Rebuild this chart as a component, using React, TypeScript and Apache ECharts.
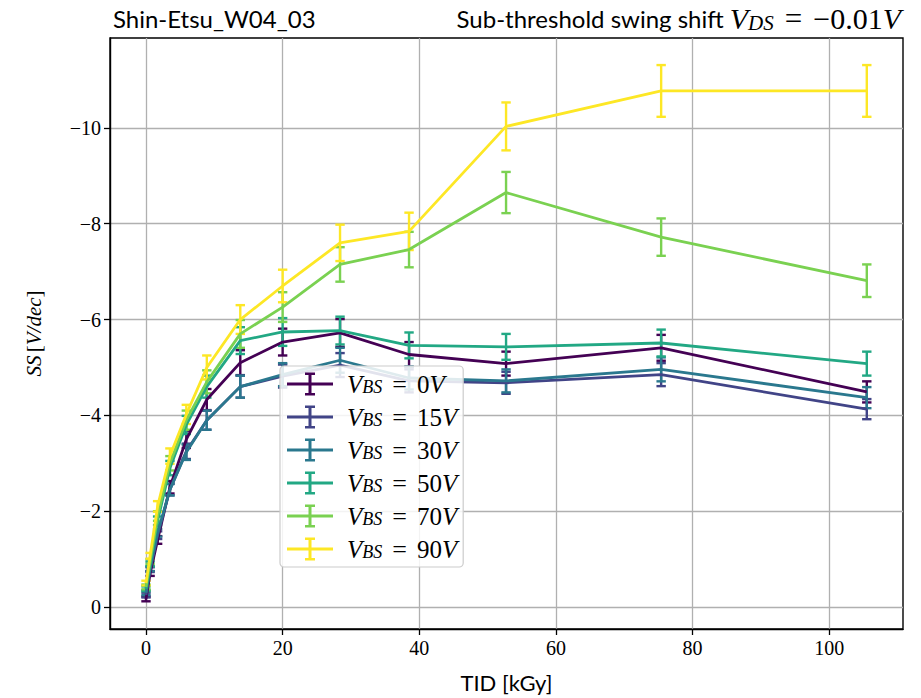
import React, { useEffect, useRef } from 'react';
import * as echarts from 'echarts';

// TID dose steps [kGy]
const tid = [0, 0.6, 1.7, 3.5, 5.9, 8.9, 13.8, 20, 28.4, 38.5, 52.7, 75.4, 105.5];

// Bias labels and colours (viridis)
const biasValues = ['0', '15', '30', '50', '70', '90'];
const colors = ['#440154', '#414487', '#2a788e', '#22a884', '#7ad151', '#fde725'];

// Sub-threshold swing shift values [V/dec]
const ss0V = [-0.17, -0.7, -1.4, -2.5, -3.5, -4.33, -5.1, -5.53, -5.72, -5.27, -5.08, -5.41, -4.49];
const ss15V = [-0.25, -0.78, -1.5, -2.45, -3.25, -3.9, -4.6, -4.82, -5.05, -4.72, -4.68, -4.85, -4.13];
const ss30V = [-0.3, -0.8, -1.55, -2.45, -3.23, -3.9, -4.6, -4.85, -5.15, -4.78, -4.72, -4.96, -4.37];
const ss50V = [-0.38, -0.9, -1.8, -2.9, -3.8, -4.6, -5.56, -5.74, -5.77, -5.46, -5.43, -5.51, -5.08];
const ss70V = [-0.42, -0.95, -1.9, -3.0, -3.9, -4.7, -5.7, -6.26, -7.15, -7.46, -8.65, -7.72, -6.81];
const ss90V = [-0.5, -1.07, -2.1, -3.15, -4.02, -5.0, -6.0, -6.7, -7.6, -7.84, -10.03, -10.77, -10.77];

// Error bar half-widths
const err0V = [0.05, 0.05, 0.08, 0.13, 0.18, 0.22, 0.26, 0.28, 0.29, 0.26, 0.25, 0.27, 0.22];
const err15V = [0.05, 0.05, 0.08, 0.12, 0.16, 0.2, 0.23, 0.24, 0.25, 0.24, 0.23, 0.24, 0.21];
const err30V = [0.05, 0.05, 0.08, 0.12, 0.16, 0.2, 0.23, 0.24, 0.26, 0.24, 0.24, 0.25, 0.22];
const err50V = [0.05, 0.05, 0.09, 0.15, 0.19, 0.23, 0.28, 0.29, 0.29, 0.27, 0.27, 0.28, 0.25];
const err70V = [0.05, 0.05, 0.1, 0.15, 0.2, 0.24, 0.29, 0.31, 0.36, 0.37, 0.43, 0.39, 0.34];
const err90V = [0.05, 0.06, 0.11, 0.16, 0.2, 0.25, 0.3, 0.34, 0.38, 0.39, 0.5, 0.54, 0.54];

const xTicks = [0, 20, 40, 60, 80, 100];
const yTicks = [-10, -8, -6, -4, -2, 0];

const ssSeries = [ss0V, ss15V, ss30V, ss50V, ss70V, ss90V];
const errSeries = [err0V, err15V, err30V, err50V, err70V, err90V];

const SERIF = "'Liberation Serif', 'DejaVu Serif', serif";
const SANS = "Lato, 'Liberation Sans', sans-serif";

const legendRich = {
  v: { fontFamily: SERIF, fontStyle: 'italic', fontWeight: 'normal', fontSize: 25, lineHeight: 24, color: '#000' },
  sub: { fontFamily: SERIF, fontStyle: 'italic', fontWeight: 'normal', fontSize: 18, lineHeight: 11, verticalAlign: 'bottom', color: '#000' },
  eq: { fontFamily: SERIF, fontWeight: 'normal', fontSize: 26, lineHeight: 24, padding: [0, 10, 0, 10], color: '#000' },
  n: { fontFamily: SERIF, fontWeight: 'normal', fontSize: 25, lineHeight: 24, color: '#000' },
};

const titleRich = {
  s: { fontFamily: SANS, fontWeight: 'normal', fontSize: 24, lineHeight: 30, color: '#000' },
  v: { fontFamily: SERIF, fontStyle: 'italic', fontWeight: 'normal', fontSize: 30, lineHeight: 30, color: '#000' },
  sub: { fontFamily: SERIF, fontStyle: 'italic', fontWeight: 'normal', fontSize: 21, lineHeight: 15, verticalAlign: 'bottom', color: '#000' },
  eq: { fontFamily: SERIF, fontWeight: 'normal', fontSize: 31, lineHeight: 30, padding: [0, 11, 0, 11], color: '#000' },
  n: { fontFamily: SERIF, fontWeight: 'normal', fontSize: 30, lineHeight: 30, color: '#000' },
};

const ICON = 'path://M0,10h46v3h-46z M21.5,0h3v23h-3z M18,0h10v2.5h-10z M18,20.5h10v2.5h-10z';

export default function App() {
  const ref = useRef<HTMLDivElement>(null);

  useEffect(() => {
    if (!ref.current) return;
    const chart = echarts.init(ref.current, undefined, { renderer: 'svg' });

    const names = biasValues.map((b) => `V_BS = ${b}V`);
    const series: any[] = [];
    ssSeries.forEach((vals, i) => {
      const color = colors[i];
      const errs = errSeries[i];
      series.push({
        type: 'custom',
        name: names[i],
        data: tid.map((x, j) => [x, vals[j] - errs[j], vals[j] + errs[j]]),
        encode: { x: 0, y: [1, 2] },
        itemStyle: { color },
        z: 2,
        renderItem: (params: any, api: any) => {
          const x = api.value(0);
          const p1 = api.coord([x, api.value(1)]);
          const p2 = api.coord([x, api.value(2)]);
          const cw = 4.7;
          const style = { stroke: color, lineWidth: 2.4 };
          return {
            type: 'group',
            children: [
              { type: 'line', shape: { x1: p1[0], y1: p1[1], x2: p2[0], y2: p2[1] }, style },
              { type: 'line', shape: { x1: p1[0] - cw, y1: p1[1], x2: p1[0] + cw, y2: p1[1] }, style },
              { type: 'line', shape: { x1: p2[0] - cw, y1: p2[1], x2: p2[0] + cw, y2: p2[1] }, style },
            ],
          };
        },
      });
      series.push({
        type: 'line',
        name: names[i],
        data: tid.map((x, j) => [x, vals[j]]),
        symbol: 'none',
        showSymbol: false,
        lineStyle: { color, width: 2.8 },
        itemStyle: { color },
        z: 2,
      });
    });

    const option: any = {
      animation: false,
      backgroundColor: '#fff',
      title: [
        {
          text: 'Shin-Etsu_W04_03',
          left: 108,
          top: 1,
          textStyle: { fontFamily: SANS, fontSize: 24, fontWeight: 'normal', color: '#000' },
        },
        {
          text: '{s|Sub-threshold swing shift }{v|V}{sub|DS}{eq|=}{n|\u22120.01}{v|V}',
          right: 15,
          top: -2,
          textStyle: { fontWeight: 'normal', rich: titleRich },
        },
      ],
      grid: {
        left: 110,
        right: 18,
        top: 38,
        bottom: 68,
        show: true,
        borderColor: '#000',
        borderWidth: 1.4,
        backgroundColor: 'transparent',
      },
      legend: {
        orient: 'vertical',
        left: 280,
        top: 366,
        padding: [5, 6, 5, 7],
        itemGap: 7,
        itemWidth: 46,
        itemHeight: 23,
        backgroundColor: 'rgba(255,255,255,0.85)',
        borderColor: '#cccccc',
        borderWidth: 1.2,
        borderRadius: 4,
        data: names.map((n, i) => ({ name: n, icon: ICON, itemStyle: { color: colors[i] } })),
        formatter: (name: string) => {
          const m = name.match(/= (\d+)V/);
          const num = m ? m[1] : '';
          return `{v|V}{sub|BS}{eq|=}{n|${num}}{v|V}`;
        },
        textStyle: { rich: legendRich, padding: [0, 0, 0, 9] },
      },
      xAxis: {
        type: 'value',
        min: -5.27,
        max: 110.8,
        name: 'TID [kGy]',
        nameLocation: 'middle',
        nameGap: 42,
        nameTextStyle: { fontFamily: SANS, fontSize: 22, color: '#000' },
        axisLine: { show: true, onZero: false, lineStyle: { color: '#000', width: 1.4 } },
        axisTick: { show: true, customValues: xTicks, length: 6, lineStyle: { color: '#000', width: 1.3 } },
        axisLabel: {
          customValues: xTicks,
          fontFamily: SERIF,
          fontSize: 20,
          color: '#000',
          margin: 9,
          formatter: (v: number) => String(v).replace('-', '\u2212'),
        },
        splitLine: { show: true, lineStyle: { color: '#b0b0b0', width: 1.3 } },
      },
      yAxis: {
        type: 'value',
        inverse: true,
        min: -11.875,
        max: 0.458,
        name: '{i|SS} {n|[}{i|V/dec}{n|]}',
        nameLocation: 'middle',
        nameRotate: 90,
        nameGap: 66,
        nameTextStyle: {
          rich: {
            i: { fontFamily: SERIF, fontStyle: 'italic', fontSize: 21, color: '#000' },
            n: { fontFamily: SERIF, fontSize: 21, color: '#000' },
          },
        },
        axisLine: { show: true, onZero: false, lineStyle: { color: '#000', width: 1.4 } },
        axisTick: { show: true, customValues: yTicks, length: 6, lineStyle: { color: '#000', width: 1.3 } },
        axisLabel: {
          customValues: yTicks,
          fontFamily: SERIF,
          fontSize: 20,
          color: '#000',
          margin: 9,
          formatter: (v: number) => String(v).replace('-', '\u2212'),
        },
        splitLine: { show: true, lineStyle: { color: '#b0b0b0', width: 1.3 } },
      },
      series,
    };

    chart.setOption(option);
    return () => chart.dispose();
  }, []);

  return (
    <div
      ref={ref}
      style={{ position: 'fixed', left: 0, top: 0, width: 921, height: 698, background: '#fff' }}
    />
  );
}
